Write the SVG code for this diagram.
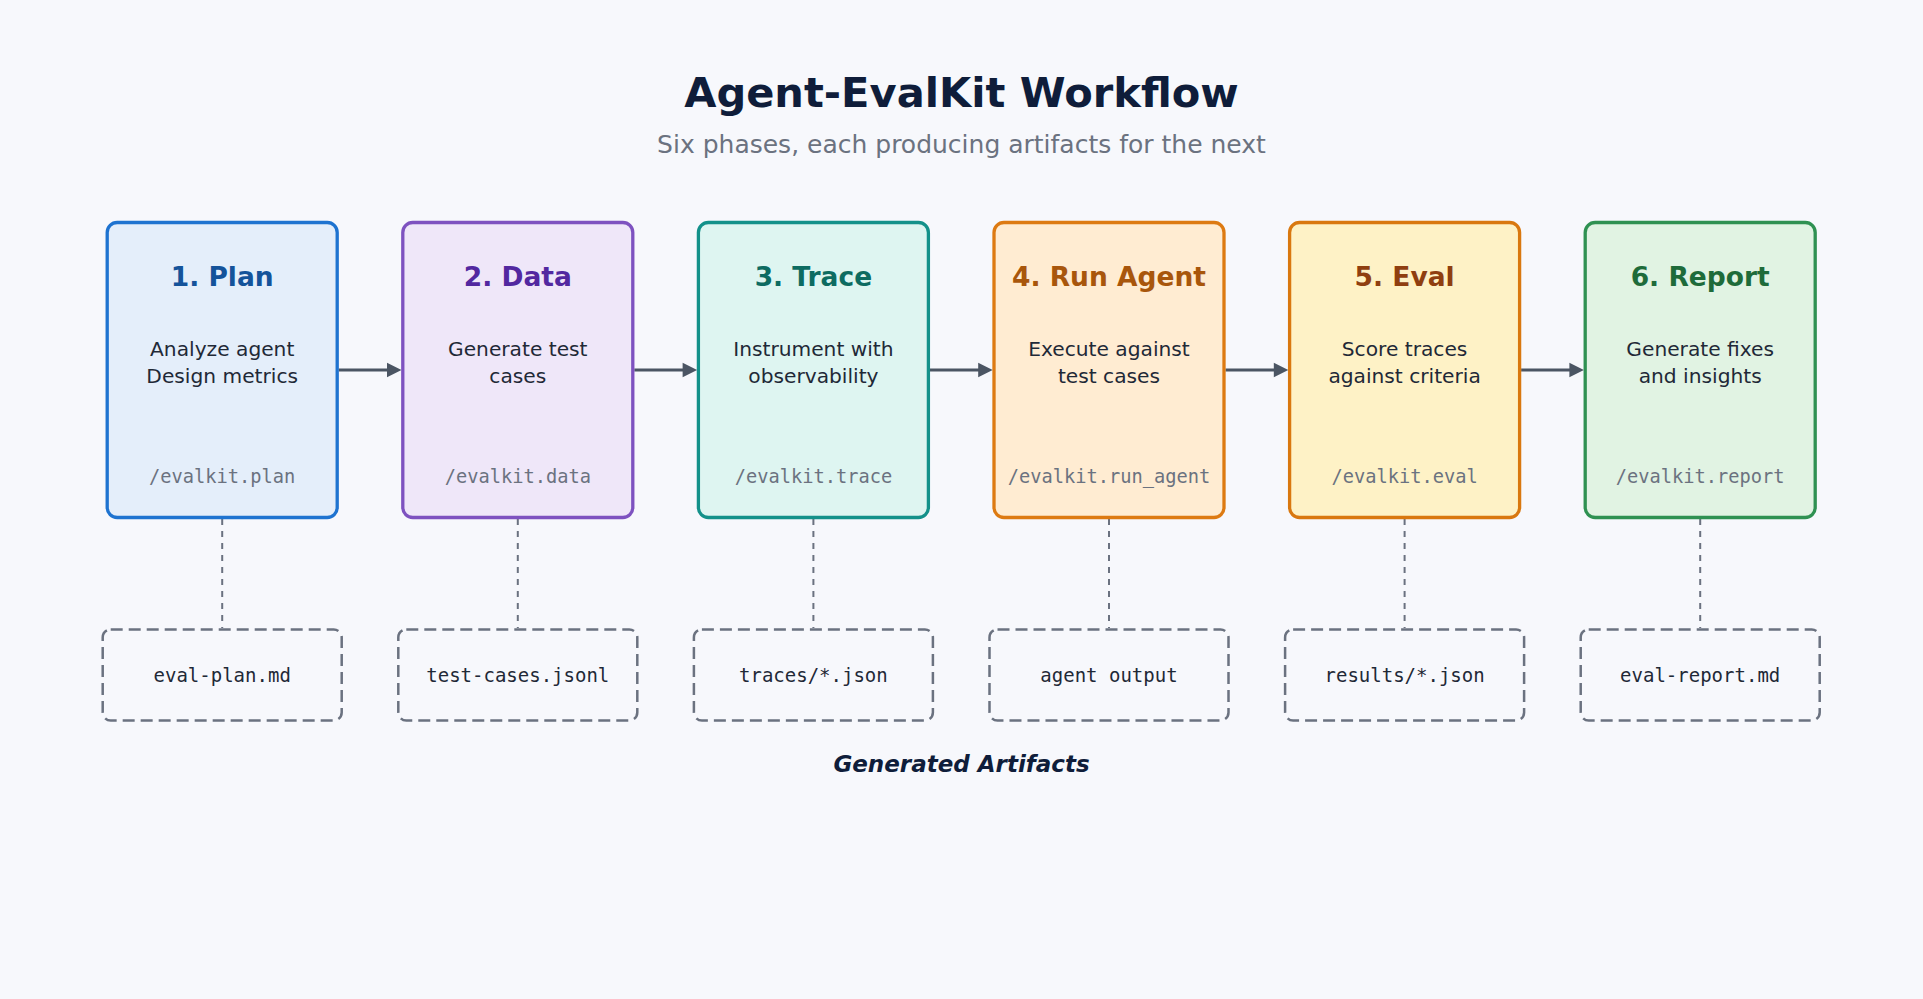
<svg xmlns="http://www.w3.org/2000/svg" width="1923" height="999" viewBox="0 0 1923 999">
<style>
  text { font-family: "DejaVu Sans", "Noto Sans", sans-serif; text-anchor: middle; }
  .title { font-size: 41.6px; font-weight: bold; fill: #0f1d3a; }
  .subtitle { font-size: 25px; fill: #6b7280; }
  .phase { stroke-width: 3.3; }
  .ptitle { font-size: 26.5px; font-weight: bold; }
  .desc { font-size: 20.2px; fill: #1f2937; }
  .cmd { font-family: "DejaVu Sans Mono", "Liberation Mono", monospace; font-size: 18.7px; fill: #6b7280; }
  .art { fill: #f7f8fc; stroke: #6b7280; stroke-width: 2.5; stroke-dasharray: 12 6; }
  .arttext { font-family: "DejaVu Sans Mono", "Liberation Mono", monospace; font-size: 19px; fill: #1f2937; }
  .flow { stroke: #4b5563; stroke-width: 3; fill: none; }
  .head { fill: #4b5563; }
  .link { stroke: #6b7280; stroke-width: 2; stroke-dasharray: 6 6; fill: none; }
  .footer { font-size: 23px; font-weight: bold; font-style: italic; fill: #0f1d3a; }
</style>
<rect x="0" y="0" width="1923" height="999" fill="#f7f8fc"/>
<g id="header">
  <text class="title" x="961.5" y="107">Agent-EvalKit Workflow</text>
  <text class="subtitle" x="961.5" y="153">Six phases, each producing artifacts for the next</text>
</g>
<g id="connectors">
  <line class="flow" x1="338.7" y1="370" x2="389" y2="370"/>
  <polygon class="head" points="387,362.7 401.5,370 387,377.3"/>
  <line class="flow" x1="634.3" y1="370" x2="684.6" y2="370"/>
  <polygon class="head" points="682.6,362.7 697.1,370 682.6,377.3"/>
  <line class="flow" x1="929.9" y1="370" x2="980.2" y2="370"/>
  <polygon class="head" points="978.2,362.7 992.7,370 978.2,377.3"/>
  <line class="flow" x1="1225.5" y1="370" x2="1275.8" y2="370"/>
  <polygon class="head" points="1273.8,362.7 1288.3,370 1273.8,377.3"/>
  <line class="flow" x1="1521.1" y1="370" x2="1571.4" y2="370"/>
  <polygon class="head" points="1569.4,362.7 1583.9,370 1569.4,377.3"/>
  <line class="link" x1="222.2" y1="519" x2="222.2" y2="628"/>
  <line class="link" x1="517.8" y1="519" x2="517.8" y2="628"/>
  <line class="link" x1="813.4" y1="519" x2="813.4" y2="628"/>
  <line class="link" x1="1109" y1="519" x2="1109" y2="628"/>
  <line class="link" x1="1404.6" y1="519" x2="1404.6" y2="628"/>
  <line class="link" x1="1700.2" y1="519" x2="1700.2" y2="628"/>
</g>
<g id="phase-plan">
  <rect class="phase" x="107.2" y="222.5" width="230" height="295" rx="10" fill="#e4eefa" stroke="#1e73d0"/>
  <text class="ptitle" x="222.2" y="286" fill="#14539a">1. Plan</text>
  <text class="desc" x="222.2" y="356">Analyze agent</text>
  <text class="desc" x="222.2" y="383">Design metrics</text>
  <text class="cmd" x="222.2" y="483">/evalkit.plan</text>
</g>
<g id="phase-data">
  <rect class="phase" x="402.8" y="222.5" width="230" height="295" rx="10" fill="#efe7f9" stroke="#7e52c0"/>
  <text class="ptitle" x="517.8" y="286" fill="#5228a0">2. Data</text>
  <text class="desc" x="517.8" y="356">Generate test</text>
  <text class="desc" x="517.8" y="383">cases</text>
  <text class="cmd" x="517.8" y="483">/evalkit.data</text>
</g>
<g id="phase-trace">
  <rect class="phase" x="698.4" y="222.5" width="230" height="295" rx="10" fill="#def5f1" stroke="#13918a"/>
  <text class="ptitle" x="813.4" y="286" fill="#0d6b61">3. Trace</text>
  <text class="desc" x="813.4" y="356">Instrument with</text>
  <text class="desc" x="813.4" y="383">observability</text>
  <text class="cmd" x="813.4" y="483">/evalkit.trace</text>
</g>
<g id="phase-run-agent">
  <rect class="phase" x="994" y="222.5" width="230" height="295" rx="10" fill="#ffecd2" stroke="#dd7a12"/>
  <text class="ptitle" x="1109" y="286" fill="#a8560c">4. Run Agent</text>
  <text class="desc" x="1109" y="356">Execute against</text>
  <text class="desc" x="1109" y="383">test cases</text>
  <text class="cmd" x="1109" y="483">/evalkit.run_agent</text>
</g>
<g id="phase-eval">
  <rect class="phase" x="1289.6" y="222.5" width="230" height="295" rx="10" fill="#fef2c6" stroke="#d9780f"/>
  <text class="ptitle" x="1404.6" y="286" fill="#8f3f10">5. Eval</text>
  <text class="desc" x="1404.6" y="356">Score traces</text>
  <text class="desc" x="1404.6" y="383">against criteria</text>
  <text class="cmd" x="1404.6" y="483">/evalkit.eval</text>
</g>
<g id="phase-report">
  <rect class="phase" x="1585.2" y="222.5" width="230" height="295" rx="10" fill="#e1f3e3" stroke="#2f9152"/>
  <text class="ptitle" x="1700.2" y="286" fill="#1e6b3a">6. Report</text>
  <text class="desc" x="1700.2" y="356">Generate fixes</text>
  <text class="desc" x="1700.2" y="383">and insights</text>
  <text class="cmd" x="1700.2" y="483">/evalkit.report</text>
</g>
<g id="artifact-plan">
  <rect class="art" x="102.7" y="629.5" width="239" height="91" rx="8"/>
  <text class="arttext" x="222.2" y="682">eval-plan.md</text>
</g>
<g id="artifact-data">
  <rect class="art" x="398.3" y="629.5" width="239" height="91" rx="8"/>
  <text class="arttext" x="517.8" y="682">test-cases.jsonl</text>
</g>
<g id="artifact-trace">
  <rect class="art" x="693.9" y="629.5" width="239" height="91" rx="8"/>
  <text class="arttext" x="813.4" y="682">traces/*.json</text>
</g>
<g id="artifact-run-agent">
  <rect class="art" x="989.5" y="629.5" width="239" height="91" rx="8"/>
  <text class="arttext" x="1109" y="682">agent output</text>
</g>
<g id="artifact-eval">
  <rect class="art" x="1285.1" y="629.5" width="239" height="91" rx="8"/>
  <text class="arttext" x="1404.6" y="682">results/*.json</text>
</g>
<g id="artifact-report">
  <rect class="art" x="1580.7" y="629.5" width="239" height="91" rx="8"/>
  <text class="arttext" x="1700.2" y="682">eval-report.md</text>
</g>
<g id="footer">
  <text class="footer" x="961.5" y="772">Generated Artifacts</text>
</g>
</svg>
